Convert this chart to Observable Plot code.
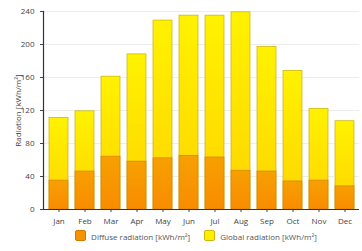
<!DOCTYPE html>
<html><head><meta charset="utf-8">
<script src="https://cdn.jsdelivr.net/npm/d3@7"></script>
<script src="https://cdn.jsdelivr.net/npm/@observablehq/plot@0.6"></script>
<style>
body{margin:0;background:#fff;font-family:"Open Sans",sans-serif;}
#legend{display:flex;justify-content:center;gap:14px;font-size:8px;color:#555;margin-top:2px;margin-left:30px}
#legend span.sw{display:inline-block;width:9px;height:9px;border-radius:2px;vertical-align:-1px;margin-right:5px}
</style></head><body>
<div id="chart"></div>
<div id="legend">
<div><span class="sw" style="background:#f59400;border:1px solid #d07800"></span>Diffuse radiation [kWh/m²]</div>
<div><span class="sw" style="background:#ffee00;border:1px solid #d0b800"></span>Global radiation [kWh/m²]</div>
</div>
<script>
const months = ["Jan","Feb","Mar","Apr","May","Jun","Jul","Aug","Sep","Oct","Nov","Dec"];
const globalRad = [111,119,161,188,229,235,235,239,197,168,122,107];
const diffuseRad = [35,46,64,58,62,65,63,47,46,34,35,28];
const yTicks = [0,40,80,120,160,200,240];

const data = months.map((m,i)=>({month:m, global:globalRad[i], diffuse:diffuseRad[i]}));

const chart = Plot.plot({
  width: 362, height: 228,
  marginLeft: 43, marginRight: 3, marginTop: 11, marginBottom: 19,
  style: {fontFamily: "Open Sans, sans-serif", fontSize: "8px", color: "#444", background: "#fff"},
  x: {domain: months, paddingInner: 0.28, paddingOuter: 0.15, label: null, tickSize: 3},
  y: {domain: [0,240], ticks: yTicks, label: "Radiation [kWh/m²]", labelAnchor: "center", labelArrow: "none", tickSize: 3},
  marks: [
    Plot.gridY(yTicks, {stroke: "#ececec", strokeOpacity: 1}),
    Plot.barY(data, {x: "month", y: "global", fill: "url(#gy)", stroke: "#c9b000", strokeWidth: 0.7}),
    Plot.barY(data, {x: "month", y: "diffuse", fill: "url(#go)", stroke: "#d88000", strokeWidth: 0.7}),
    Plot.axisY({ticks: yTicks, tickSize: 3, label: "Radiation [kWh/m²]", labelAnchor: "center", labelArrow: "none", labelOffset: 28}),
    Plot.frame({anchor: "left", stroke: "#333", strokeWidth: 1.2}),
    Plot.ruleY([0], {stroke: "#333"})
  ]
});
const svg = d3.select(chart);
const defs = svg.insert("defs", ":first-child");
const gy = defs.append("linearGradient").attr("id","gy").attr("x1",0).attr("x2",0).attr("y1",0).attr("y2",1);
gy.append("stop").attr("offset","0%").attr("stop-color","#fff200");
gy.append("stop").attr("offset","100%").attr("stop-color","#ffd400");
const go = defs.append("linearGradient").attr("id","go").attr("x1",0).attr("x2",0).attr("y1",0).attr("y2",1);
go.append("stop").attr("offset","0%").attr("stop-color","#f7a000");
go.append("stop").attr("offset","100%").attr("stop-color","#f98c00");
document.getElementById("chart").appendChild(chart);
</script>
</body></html>
